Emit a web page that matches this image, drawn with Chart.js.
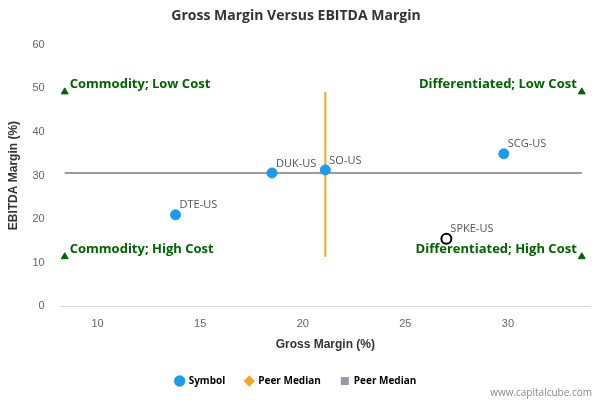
<!DOCTYPE html>
<html><head><meta charset="utf-8">
<script src="https://cdn.jsdelivr.net/npm/chart.js@4"></script>
<style>body{margin:0}#w{width:600px;height:400px;position:relative}</style>
</head><body><div id="w"><canvas id="c"></canvas></div>
<script>
const symbols=["DTE-US","DUK-US","SO-US","SCG-US","SPKE-US"];
const grossMargin=[13.8,18.5,21.1,29.8,27.0];
const ebitdaMargin=[21.0,30.6,31.3,35.0,15.5];
const peerX=21.1, peerY=30.6;
const xMin=8.4, xMax=33.6, yLow=11.4, yHigh=49.2;
const quadrants=[["Commodity; Low Cost",xMin,yHigh,"left"],["Differentiated; Low Cost",xMax,yHigh,"right"],["Commodity; High Cost",xMin,yLow,"left"],["Differentiated; High Cost",xMax,yLow,"right"]];

const labelPlugin={id:'lbl',afterDatasetsDraw(ch){
 const ctx=ch.ctx,xs=ch.scales.x,ys=ch.scales.y;
 ctx.save();ctx.font='11px "Open Sans", sans-serif';ctx.fillStyle='#555';ctx.textBaseline='bottom';
 symbols.forEach((s,i)=>{ctx.textAlign='left';ctx.fillText(s,xs.getPixelForValue(grossMargin[i])+4,ys.getPixelForValue(ebitdaMargin[i])-4);});
 ctx.font='bold 13px "Open Sans", sans-serif';ctx.fillStyle='#006400';ctx.textBaseline='bottom';
 quadrants.forEach(q=>{ctx.textAlign=q[3];const px=xs.getPixelForValue(q[1])+(q[3]=='left'?5:-5);ctx.fillText(q[0],px,ys.getPixelForValue(q[2])-1);});
 ctx.font='10px "Open Sans", sans-serif';ctx.fillStyle='#888';ctx.textAlign='right';ctx.fillText('www.capitalcube.com',592,398);
 ctx.restore();}};

new Chart(document.getElementById('c'),{type:'scatter',
data:{datasets:[
 {label:'Symbol',data:grossMargin.slice(0,4).map((x,i)=>({x,y:ebitdaMargin[i]})),backgroundColor:'#1a9bef',borderColor:'#1a9bef',pointRadius:5,pointHoverRadius:5},
 {label:'Peer Median',data:[{x:peerX,y:yLow},{x:peerX,y:yHigh}],showLine:true,borderColor:'#f5a623',backgroundColor:'#f5a623',borderWidth:2,pointRadius:0,pointStyle:'rectRot'},
 {label:'Peer Median',data:[{x:xMin,y:peerY},{x:xMax,y:peerY}],showLine:true,borderColor:'#9a9aa6',backgroundColor:'#9a9aa6',borderWidth:2,pointRadius:0,pointStyle:'rect'},
 {label:'SPKE',data:[{x:grossMargin[4],y:ebitdaMargin[4]}],backgroundColor:'#fff',borderColor:'#000',borderWidth:2,pointRadius:5},
 {label:'Q',data:quadrants.map(q=>({x:q[1],y:q[2]})),pointStyle:'triangle',backgroundColor:'#006400',borderColor:'#006400',pointRadius:4}
]},
options:{responsive:true,maintainAspectRatio:false,animation:false,
 layout:{padding:{left:2,right:10,bottom:4}},
 plugins:{title:{display:true,text:'Gross Margin Versus EBITDA Margin',font:{size:14,weight:'bold',family:'"Open Sans", sans-serif'},color:'#333',padding:{top:8,bottom:20}},
  legend:{position:'bottom',labels:{usePointStyle:true,boxWidth:8,boxHeight:8,font:{size:10,weight:'bold',family:'"Open Sans", sans-serif'},color:'#333',padding:20,
   generateLabels(ch){return ch.data.datasets.slice(0,3).map((d,i)=>({text:d.label,fillStyle:d.backgroundColor,strokeStyle:d.borderColor,pointStyle:i==0?'circle':(i==1?'rectRot':'rect'),datasetIndex:i,lineWidth:0}));}}},
  tooltip:{enabled:false}},
 scales:{x:{type:'linear',min:8.2,max:34,grid:{display:false},border:{color:'#ccd6eb'},
   afterBuildTicks(s){s.ticks=[10,15,20,25,30].map(v=>({value:v}));},
   ticks:{color:'#666',font:{size:11}},title:{display:true,text:'Gross Margin (%)',font:{size:12,weight:'bold'},color:'#333'}},
  y:{min:0,max:60,ticks:{stepSize:10,color:'#666',font:{size:11},padding:8},grid:{display:false},border:{display:false},
   title:{display:true,text:'EBITDA Margin (%)',font:{size:12,weight:'bold'},color:'#333'}}}},
plugins:[labelPlugin]});
</script></body></html>
